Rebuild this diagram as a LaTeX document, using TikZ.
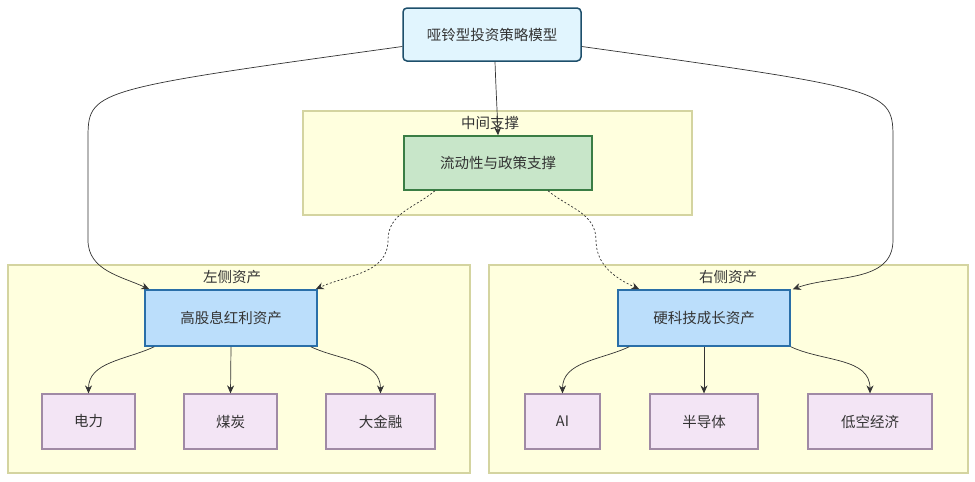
\documentclass[tikz,border=0pt]{standalone}
\usepackage{fontspec}
\setmainfont{Noto Sans CJK SC}
\usetikzlibrary{arrows.meta, positioning}

\definecolor{radiceF}{HTML}{E1F5FE}
\definecolor{radiceB}{HTML}{1D4F6B}
\definecolor{gruppoF}{HTML}{FFFFDE}
\definecolor{gruppoB}{HTML}{D4D4A0}
\definecolor{verdeF}{HTML}{C8E6C9}
\definecolor{verdeB}{HTML}{3A7D44}
\definecolor{bluF}{HTML}{BBDEFB}
\definecolor{bluB}{HTML}{2A6FA8}
\definecolor{fogliaF}{HTML}{F3E5F5}
\definecolor{fogliaB}{HTML}{A08AA5}
\definecolor{linea}{HTML}{333333}

\tikzset{
  gruppo/.style={draw=gruppoB, fill=gruppoF, line width=1.2pt, inner sep=0pt},
  radice/.style={draw=radiceB, fill=radiceF, line width=1.5pt, rounded corners=4pt,
    minimum width=178pt, minimum height=53pt},
  verde/.style={draw=verdeB, fill=verdeF, line width=1.5pt,
    minimum width=188pt, minimum height=54pt},
  blu/.style={draw=bluB, fill=bluF, line width=1.5pt,
    minimum width=172pt, minimum height=56pt},
  foglia/.style={draw=fogliaB, fill=fogliaF, line width=1.2pt, minimum height=55pt},
  freccia/.style={draw=linea, line width=0.7pt, -{Stealth[length=8pt,width=7pt]}},
  punteggiata/.style={freccia, dash pattern=on 2pt off 2pt},
}

\begin{document}
\begin{tikzpicture}[x=1pt, y=-1pt, font=\fontsize{14.5pt}{17pt}\selectfont, text=black!80]
  \useasboundingbox (0,0) rectangle (975,482);

  % gruppi
  \node[gruppo, minimum width=389pt, minimum height=104pt] (gMezzo) at (497.5,163) {};
  \node[gruppo, minimum width=462pt, minimum height=208pt] (gSx) at (239,369) {};
  \node[gruppo, minimum width=479pt, minimum height=208pt] (gDx) at (728.5,369) {};
  \node (tMezzo) at (490,123) {中间支撑};
  \node (tSx) at (232,277) {左侧资产};
  \node (tDx) at (728,277) {右侧资产};

  % nodi principali
  \node[radice] (Radice) at (492,34.5) {哑铃型投资策略模型};
  \node[verde] (Liquidita) at (498,163) {流动性与政策支撑};
  \node[blu] (Dividendi) at (231,318) {高股息红利资产};
  \node[blu] (Tecno) at (704,318) {硬科技成长资产};

  % foglie
  \node[foglia, minimum width=93pt] (Elettr) at (88.5,421.5) {电力};
  \node[foglia, minimum width=93pt] (Carbone) at (230.5,421.5) {煤炭};
  \node[foglia, minimum width=109pt] (Finanza) at (380.5,421.5) {大金融};
  \node[foglia, minimum width=75pt] (AI) at (562.5,421.5) {AI};
  \node[foglia, minimum width=108pt] (Semi) at (704,421.5) {半导体};
  \node[foglia, minimum width=124pt] (Volo) at (870,421.5) {低空经济};

  % punti di curva
  \coordinate (ctrlSx) at (88,90);
  \coordinate (curvaSxA) at (88,140);
  \coordinate (curvaSxB) at (88,240);
  \coordinate (ctrlDx) at (893,90);
  \coordinate (curvaDxA) at (893,140);
  \coordinate (curvaDxB) at (893,240);
  \coordinate (onda1) at (388,240);
  \coordinate (onda2) at (596,240);

  % collegamenti dalla radice
  \draw[freccia] ([yshift=-12]Radice.west) .. controls (ctrlSx) .. (curvaSxA) -- (curvaSxB)
    to[out=-90,in=155] ([xshift=5]Dividendi.north west);
  \draw[freccia] ([yshift=-12]Radice.east) .. controls (ctrlDx) .. (curvaDxA) -- (curvaDxB)
    to[out=-90,in=20] ([xshift=2]Tecno.north east);
  \draw[freccia] ([xshift=3]Radice.south) to[out=-88,in=92] (Liquidita.north);

  % collegamenti tratteggiati
  \draw[punteggiata] ([xshift=-63]Liquidita.south) to[out=-140,in=90] (onda1)
    to[out=-90,in=25] ([xshift=-2]Dividendi.north east);
  \draw[punteggiata] ([xshift=50]Liquidita.south) to[out=-40,in=90] (onda2)
    to[out=-90,in=155] ([xshift=22]Tecno.north west);

  % foglie sinistra
  \draw[freccia] ([xshift=10]Dividendi.south west) to[out=-155,in=90] (Elettr.north);
  \draw[freccia] (Dividendi.south) -- (Carbone.north);
  \draw[freccia] ([xshift=-7]Dividendi.south east) to[out=-25,in=90] (Finanza.north);

  % foglie destra
  \draw[freccia] ([xshift=12]Tecno.south west) to[out=-155,in=90] (AI.north);
  \draw[freccia] (Tecno.south) -- (Semi.north);
  \draw[freccia] (Tecno.south east) to[out=-25,in=90] (Volo.north);
\end{tikzpicture}
\end{document}
